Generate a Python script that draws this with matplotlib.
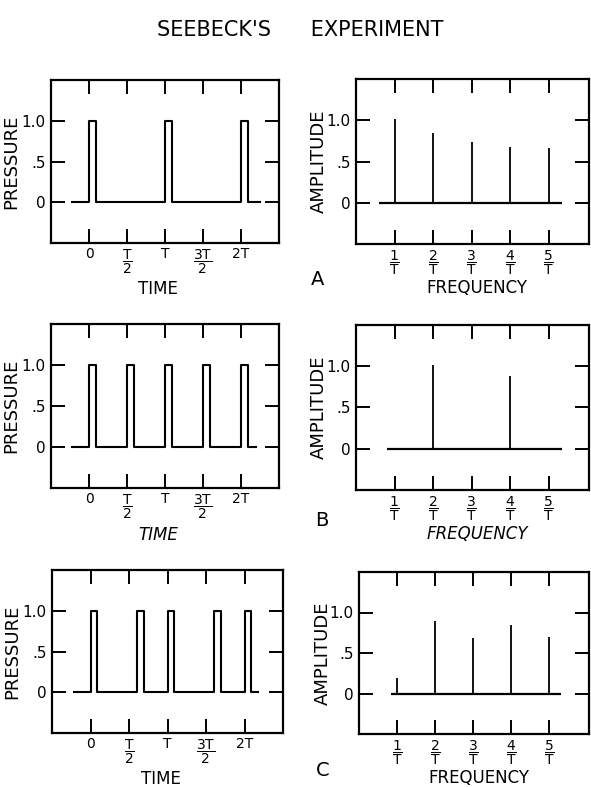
import matplotlib.pyplot as plt

# --- data (time in units of T, frequency in units of 1/T) ---
pulse_a = [0.0, 1.0, 2.0]
pulse_b = [0.0, 0.5, 1.0, 1.5, 2.0]
pulse_c = [0.0, 0.6, 1.0, 1.6, 2.0]
pulse_width = 0.09
trace_start = [-0.22, -0.22, -0.22]
trace_end = [2.25, 2.2, 2.18]

harmonics = [1, 2, 3, 4, 5]
amp_a = [1.01, 0.85, 0.74, 0.67, 0.66]
amp_b = [0.0, 1.02, 0.0, 0.88, 0.0]
amp_c = [0.19, 0.90, 0.68, 0.85, 0.70]
base_start = [0.6, 0.8, 0.83]
base_end = [5.35, 5.36, 5.32]

time_ticks = [0, 0.5, 1, 1.5, 2]
time_labels = ['0', r'$\dfrac{\mathrm{T}}{2}$', 'T', r'$\dfrac{3\mathrm{T}}{2}$', '2T']
freq_labels = [r'$\dfrac{%d}{\mathrm{T}}$' % h for h in harmonics]
y_ticks = [0, 0.5, 1.0]
y_labels = ['0', '.5', '1.0']
panel_letters = ['A', 'B', 'C']

W, H = 591, 787
plt.rcParams['mathtext.fontset'] = 'dejavusans'
fig = plt.figure(figsize=(W / 100, H / 100), dpi=100)


def px_axes(x0, x1, y0, y1):
    # pixel box (top-left origin) -> figure axes
    return fig.add_axes([x0 / W, 1 - y1 / H, (x1 - x0) / W, (y1 - y0) / H])


def style(ax):
    for s in ax.spines.values():
        s.set_linewidth(1.6)
    ax.tick_params(axis='both', direction='in', length=10, width=1.4,
                   labelsize=11, pad=4)
    ax.tick_params(axis='x', top=True, bottom=True, labelsize=10, pad=3)
    ax.tick_params(axis='y', left=True, right=True)
    ax.set_yticks(y_ticks)
    ax.set_yticklabels(y_labels)
    ax.set_ylim(-0.5, 1.5)


left_boxes = [(51, 279, 80, 243), (51, 279, 324, 488), (52, 283, 570, 733)]
right_boxes = [(356, 589, 79, 244), (356, 589, 325, 490), (359, 589, 572, 734)]
letter_pos = [(318, 280), (322, 520), (323, 770)]
pulses = [pulse_a, pulse_b, pulse_c]
amps = [amp_a, amp_b, amp_c]

for i in range(3):
    italic = 'italic' if i == 1 else 'normal'

    # pressure vs time
    ax = px_axes(*left_boxes[i])
    style(ax)
    xs, ys = [trace_start[i]], [0]
    for t in pulses[i]:
        xs += [t, t, t + pulse_width, t + pulse_width]
        ys += [0, 1, 1, 0]
    xs.append(trace_end[i])
    ys.append(0)
    ax.plot(xs, ys, color='black', lw=1.5)
    ax.set_xlim(-0.5, 2.5)
    ax.set_xticks(time_ticks)
    ax.set_xticklabels(time_labels)
    ax.set_ylabel('PRESSURE', fontsize=13)
    ax.yaxis.set_label_coords(-0.135, 0.5)
    ax.set_xlabel('TIME', fontsize=12, style=italic)
    ax.xaxis.set_label_coords(0.47, -0.23)

    # amplitude spectrum
    ax = px_axes(*right_boxes[i])
    style(ax)
    ax.hlines(0, base_start[i], base_end[i], color='black', lw=1.6)
    ax.vlines(harmonics, 0, amps[i], color='black', lw=1.3)
    ax.set_xlim(0, 6.05)
    ax.set_xticks(harmonics)
    ax.set_xticklabels(freq_labels)
    ax.set_ylabel('AMPLITUDE', fontsize=13)
    ax.yaxis.set_label_coords(-0.12, 0.5)
    ax.set_xlabel('FREQUENCY', fontsize=12, style=italic)
    ax.xaxis.set_label_coords(0.52, -0.215)

    lx, ly = letter_pos[i]
    fig.text(lx / W, 1 - ly / H, panel_letters[i], fontsize=14,
             ha='center', va='center')

fig.text(300 / W, 1 - 30 / H, "SEEBECK'S      EXPERIMENT", fontsize=15,
         ha='center', va='center')

fig.savefig('out.png', dpi=100)
